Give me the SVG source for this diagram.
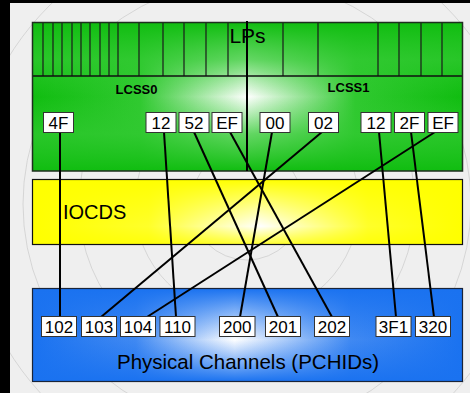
<svg xmlns="http://www.w3.org/2000/svg" width="470" height="393" viewBox="0 0 470 393">
<defs>
<linearGradient id="gH" x1="0" y1="0" x2="1" y2="0">
<stop offset="0" stop-color="#10bd10"/><stop offset="0.25" stop-color="#30c930"/><stop offset="0.5" stop-color="#ffffff"/><stop offset="0.75" stop-color="#30c930"/><stop offset="1" stop-color="#10bd10"/>
</linearGradient>
<linearGradient id="gV" x1="0" y1="0" x2="0" y2="1">
<stop offset="0" stop-color="#10bd10" stop-opacity="1"/><stop offset="0.25" stop-color="#30c930" stop-opacity="0.75"/><stop offset="0.5" stop-color="#30c930" stop-opacity="0"/><stop offset="0.75" stop-color="#30c930" stop-opacity="0.75"/><stop offset="1" stop-color="#10bd10" stop-opacity="1"/>
</linearGradient>
<linearGradient id="yH" x1="0" y1="0" x2="1" y2="0">
<stop offset="0" stop-color="#ffff00"/><stop offset="0.27" stop-color="#ffff2a"/><stop offset="0.53" stop-color="#ffffff"/><stop offset="0.78" stop-color="#ffff2a"/><stop offset="1" stop-color="#ffff00"/>
</linearGradient>
<linearGradient id="yV" x1="0" y1="0" x2="0" y2="1">
<stop offset="0" stop-color="#ffff00" stop-opacity="1"/><stop offset="0.72" stop-color="#ffff00" stop-opacity="0"/><stop offset="1" stop-color="#ffff00" stop-opacity="0.8"/>
</linearGradient>
<linearGradient id="bH" x1="0" y1="0" x2="1" y2="0">
<stop offset="0" stop-color="#1a72f0"/><stop offset="0.24" stop-color="#4089f2"/><stop offset="0.47" stop-color="#ffffff"/><stop offset="0.74" stop-color="#4089f2"/><stop offset="1" stop-color="#1a72f0"/>
</linearGradient>
<linearGradient id="bV" x1="0" y1="0" x2="0" y2="1">
<stop offset="0" stop-color="#1a72f0" stop-opacity="1"/><stop offset="0.55" stop-color="#1a72f0" stop-opacity="0"/><stop offset="1" stop-color="#1a72f0" stop-opacity="1"/>
</linearGradient>
<style>
.lbl{fill:#fff;stroke:#333;stroke-width:1}
.t{font-family:"Liberation Sans",Arial,sans-serif;font-size:17px;fill:#000;text-anchor:middle}
.big{font-family:"Liberation Sans",Arial,sans-serif;fill:#000}
.lp{stroke:#1a1a1a;stroke-width:1.2}
.arc{fill:none;stroke:#cacaca;stroke-width:0.7}
.con{stroke:#000;stroke-width:2;fill:none}
</style>
</defs>
<rect x="0" y="0" width="470" height="393" fill="#efefef"/>
<g id="background-arcs">
<circle class="arc" cx="247" cy="204" r="280"/>
<circle class="arc" cx="247" cy="204" r="224"/>
<circle class="arc" cx="247" cy="204" r="168"/>
<circle class="arc" cx="247" cy="204" r="112"/>
<circle class="arc" cx="247" cy="204" r="56"/>
</g>
<rect x="0" y="0" width="10" height="393" fill="#000"/>
<rect x="0" y="0" width="470" height="3" fill="#000"/>

<g id="lps-lcss">
<rect x="32.5" y="22.5" width="430" height="148.5" fill="url(#gH)"/>
<rect x="32.5" y="22.5" width="430" height="148.5" fill="url(#gV)"/>
<g class="lp">
<line x1="43" y1="22.5" x2="43" y2="76"/><line x1="53" y1="22.5" x2="53" y2="76"/><line x1="62" y1="22.5" x2="62" y2="76"/><line x1="72" y1="22.5" x2="72" y2="76"/><line x1="81" y1="22.5" x2="81" y2="76"/><line x1="90" y1="22.5" x2="90" y2="76"/><line x1="100" y1="22.5" x2="100" y2="76"/><line x1="109" y1="22.5" x2="109" y2="76"/><line x1="118" y1="22.5" x2="118" y2="76"/><line x1="139" y1="22.5" x2="139" y2="76"/><line x1="163" y1="22.5" x2="163" y2="76"/><line x1="184" y1="22.5" x2="184" y2="76"/><line x1="206" y1="22.5" x2="206" y2="76"/><line x1="228" y1="22.5" x2="228" y2="76"/><line x1="283" y1="22.5" x2="283" y2="76"/><line x1="318" y1="22.5" x2="318" y2="76"/><line x1="378" y1="22.5" x2="378" y2="76"/><line x1="399" y1="22.5" x2="399" y2="76"/><line x1="421" y1="22.5" x2="421" y2="76"/><line x1="442" y1="22.5" x2="442" y2="76"/>
</g>
<line x1="32.5" y1="76" x2="462.5" y2="76" stroke="#111" stroke-width="1.5"/>
<rect x="32.5" y="22.5" width="430" height="148.5" fill="none" stroke="#1e2e1e" stroke-width="1.5"/>
<text class="big" x="247.5" y="43" font-size="21" text-anchor="middle">LPs</text>
<text class="big" x="136.5" y="94" font-size="13" font-weight="bold" text-anchor="middle">LCSS0</text>
<text class="big" x="348.5" y="92" font-size="13" font-weight="bold" text-anchor="middle">LCSS1</text>
</g>

<g id="iocds">
<rect x="32.5" y="179.5" width="430" height="65" fill="url(#yH)"/>
<rect x="32.5" y="179.5" width="430" height="65" fill="url(#yV)"/>
<rect x="32.5" y="179.5" width="430" height="65" fill="none" stroke="#111" stroke-width="1.2"/>
<text class="big" x="63" y="218.5" font-size="20">IOCDS</text>
</g>

<g id="pchids">
<rect x="32.5" y="288.5" width="430" height="93" fill="url(#bH)"/>
<rect x="32.5" y="288.5" width="430" height="93" fill="url(#bV)"/>
<rect x="32.5" y="288.5" width="430" height="93" fill="none" stroke="#1a2438" stroke-width="1.2"/>
<text class="big" x="248" y="369" font-size="20.5" text-anchor="middle">Physical Channels (PCHIDs)</text>
</g>

<g id="connectors">
<line class="con" x1="247" y1="21" x2="247" y2="171"/>
<line class="con" x1="60" y1="132" x2="60" y2="317"/>
<line class="con" x1="164" y1="132" x2="176" y2="317"/>
<line class="con" x1="194" y1="132" x2="278" y2="317"/>
<line class="con" x1="230" y1="132" x2="332" y2="317"/>
<line class="con" x1="272" y1="132" x2="240" y2="317"/>
<line class="con" x1="322" y1="132" x2="101" y2="317"/>
<line class="con" x1="379" y1="132" x2="396" y2="317"/>
<line class="con" x1="411" y1="132" x2="434" y2="317"/>
<line class="con" x1="435" y1="132" x2="147" y2="317"/>
</g>

<g id="cu-4F"><rect class="lbl" x="43.5" y="112.5" width="30" height="20"/><text class="t" x="58.5" y="129">4F</text></g>
<g id="cu-12a"><rect class="lbl" x="146" y="112.5" width="30" height="20"/><text class="t" x="161" y="129">12</text></g>
<g id="cu-52"><rect class="lbl" x="179" y="112.5" width="30" height="20"/><text class="t" x="194" y="129">52</text></g>
<g id="cu-EFa"><rect class="lbl" x="212" y="112.5" width="30" height="20"/><text class="t" x="227" y="129">EF</text></g>
<g id="cu-00"><rect class="lbl" x="260" y="112.5" width="30" height="20"/><text class="t" x="275" y="129">00</text></g>
<g id="cu-02"><rect class="lbl" x="308.5" y="112.5" width="30" height="20"/><text class="t" x="323.5" y="129">02</text></g>
<g id="cu-12b"><rect class="lbl" x="361" y="112.5" width="30" height="20"/><text class="t" x="376" y="129">12</text></g>
<g id="cu-2F"><rect class="lbl" x="394.5" y="112.5" width="30" height="20"/><text class="t" x="409.5" y="129">2F</text></g>
<g id="cu-EFb"><rect class="lbl" x="428" y="112.5" width="30" height="20"/><text class="t" x="443" y="129">EF</text></g>

<g id="ch-102"><rect class="lbl" x="41.5" y="316.5" width="35" height="20"/><text class="t" x="59" y="333">102</text></g>
<g id="ch-103"><rect class="lbl" x="81.5" y="316.5" width="35" height="20"/><text class="t" x="99" y="333">103</text></g>
<g id="ch-104"><rect class="lbl" x="120.5" y="316.5" width="35" height="20"/><text class="t" x="138" y="333">104</text></g>
<g id="ch-110"><rect class="lbl" x="160" y="316.5" width="35" height="20"/><text class="t" x="177.5" y="333">110</text></g>
<g id="ch-200"><rect class="lbl" x="219.5" y="316.5" width="35.5" height="20"/><text class="t" x="237.2" y="333">200</text></g>
<g id="ch-201"><rect class="lbl" x="265.5" y="316.5" width="35" height="20"/><text class="t" x="283" y="333">201</text></g>
<g id="ch-202"><rect class="lbl" x="314.5" y="316.5" width="35" height="20"/><text class="t" x="332" y="333">202</text></g>
<g id="ch-3F1"><rect class="lbl" x="376" y="316.5" width="35" height="20"/><text class="t" x="393.5" y="333">3F1</text></g>
<g id="ch-320"><rect class="lbl" x="415.5" y="316.5" width="35" height="20"/><text class="t" x="433" y="333">320</text></g>
</svg>
